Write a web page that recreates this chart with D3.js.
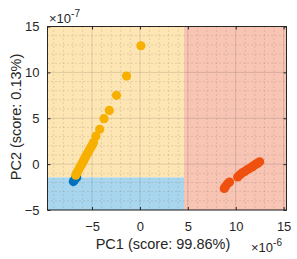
<!DOCTYPE html>
<html><head><meta charset="utf-8">
<script src="https://cdn.jsdelivr.net/npm/d3@7"></script>
<style>body{margin:0;background:#fff}svg{display:block}text{font-family:"Liberation Sans",Arial,sans-serif;fill:#262626}</style>
</head><body><svg id="c" width="297" height="259"></svg>
<script>
const xTicks = [-5, 0, 5, 10, 15];
const yTicks = [-5, 0, 5, 10, 15];
const xLabel = "PC1 (score: 99.86%)";
const yLabel = "PC2 (score: 0.13%)";
const xExp = "-6", yExp = "-7";
// decision regions (in data units, scaled)
const regionBoundaryX = 4.6;
const regionBoundaryY = -1.45;
// class points (x in 1e-6, y in 1e-7)
const blueX = [-6.95, -6.85, -6.75, -6.6];
const blueY = [-1.9, -1.75, -1.6, -1.45];
const redX = [8.8, 8.95, 9.15, 9.35, 10.2, 10.45, 10.7, 10.95, 11.2, 11.45, 11.7, 11.9, 12.1, 12.3, 12.5];
const redY = [-2.65, -2.4, -2.15, -1.95, -1.4, -1.15, -0.95, -0.8, -0.6, -0.45, -0.3, -0.15, 0.0, 0.1, 0.25];
const yelX = [0.1, -1.4, -2.45, -3.2, -3.75, -4.2, -4.6, -4.85, -4.95, -5.05, -5.2, -5.3, -5.4, -5.55, -5.65, -5.75, -5.85, -5.95, -6.05, -6.15, -6.3, -6.4, -6.5, -6.6, -6.7];
const yelY = [12.9, 9.6, 7.5, 5.85, 4.95, 3.8, 3.05, 2.35, 2.15, 1.95, 1.7, 1.5, 1.3, 1.05, 0.85, 0.65, 0.45, 0.25, 0.05, -0.15, -0.4, -0.6, -0.8, -1.0, -1.2];

const svg = d3.select("#c");
const L = 47.5, T = 26.5, R = 286.5, B = 210;
const x = d3.scaleLinear().domain([-9.65, 15.3]).range([L, R]);
const y = d3.scaleLinear().domain([-5, 15]).range([B, T]);
const [x0, x1] = x.domain(), [y0, y1] = y.domain();

// regions
svg.append("rect").attr("x", x(x0)).attr("y", y(y1)).attr("width", x(regionBoundaryX) - x(x0)).attr("height", y(regionBoundaryY) - y(y1)).attr("fill", "#FEE6B4");
svg.append("rect").attr("x", x(x0)).attr("y", y(regionBoundaryY)).attr("width", x(regionBoundaryX) - x(x0)).attr("height", y(y0) - y(regionBoundaryY)).attr("fill", "#A8D6EE");
svg.append("rect").attr("x", x(regionBoundaryX)).attr("y", y(y1)).attr("width", x(x1) - x(regionBoundaryX)).attr("height", y(y0) - y(y1)).attr("fill", "#F8C4B4");

// minor grid
const minorX = d3.range(-9, 16, 1).filter(v => v % 5 !== 0);
const minorY = d3.range(-4, 16, 1).filter(v => v % 5 !== 0);
const g = svg.append("g");
g.selectAll(".mx").data(minorX).join("line").attr("x1", d => x(d)).attr("x2", d => x(d)).attr("y1", T).attr("y2", B)
  .attr("stroke", "#8a7a6a").attr("stroke-opacity", 0.45).attr("stroke-width", 1).attr("stroke-dasharray", "1,3");
g.selectAll(".my").data(minorY).join("line").attr("y1", d => y(d)).attr("y2", d => y(d)).attr("x1", L).attr("x2", R)
  .attr("stroke", "#8a7a6a").attr("stroke-opacity", 0.45).attr("stroke-width", 1).attr("stroke-dasharray", "1,3");
// major grid
g.selectAll(".gx").data(xTicks).join("line").attr("x1", d => x(d)).attr("x2", d => x(d)).attr("y1", T).attr("y2", B)
  .attr("stroke", "#262626").attr("stroke-opacity", 0.15);
g.selectAll(".gy").data(yTicks).join("line").attr("y1", d => y(d)).attr("y2", d => y(d)).attr("x1", L).attr("x2", R)
  .attr("stroke", "#262626").attr("stroke-opacity", 0.15);

// points
const pts = (xs, ys, col) => svg.append("g").selectAll("circle").data(xs.map((v, i) => [v, ys[i]])).join("circle")
  .attr("cx", d => x(d[0])).attr("cy", d => y(d[1])).attr("r", 4.6).attr("fill", col);
pts(blueX, blueY, "#0072BD");
pts(redX, redY, "#F0500F");
pts(yelX, yelY, "#F7B000");

// axes
const ax = svg.append("g").attr("transform", `translate(0,${B})`).call(d3.axisBottom(x).tickValues(xTicks).tickSizeInner(-3).tickSizeOuter(0).tickPadding(12).tickFormat(d3.format("d")));
const axT = svg.append("g").attr("transform", `translate(0,${T})`).call(d3.axisTop(x).tickValues(xTicks).tickSizeInner(-3).tickSizeOuter(0).tickFormat(""));
const ay = svg.append("g").attr("transform", `translate(${L},0)`).call(d3.axisLeft(y).tickValues(yTicks).tickSizeInner(-3).tickSizeOuter(0).tickPadding(8).tickFormat(d3.format("d")));
const ayR = svg.append("g").attr("transform", `translate(${R},0)`).call(d3.axisRight(y).tickValues(yTicks).tickSizeInner(-3).tickSizeOuter(0).tickFormat(""));
[ax, axT, ay, ayR].forEach(a => {
  a.select(".domain").remove();
  a.selectAll(".tick line").attr("stroke", "#262626");
  a.selectAll("text").attr("font-size", 13).attr("fill", "#262626").style("font-family", '"Liberation Sans",Arial,sans-serif');
});
svg.append("rect").attr("x", L).attr("y", T).attr("width", R - L).attr("height", B - T).attr("fill", "none").attr("stroke", "#262626").attr("stroke-width", 1);

// labels
svg.append("text").attr("x", 163).attr("y", 249).attr("text-anchor", "middle").attr("font-size", 14.5).text(xLabel);
svg.append("text").attr("transform", "translate(21,117) rotate(-90)").attr("text-anchor", "middle").attr("font-size", 14.5).text(yLabel);

const ex1 = svg.append("text").attr("x", 49).attr("y", 23).attr("font-size", 13);
ex1.append("tspan").text("×10");
ex1.append("tspan").attr("dy", -6).attr("font-size", 10).text(yExp);
const ex2 = svg.append("text").attr("x", 251).attr("y", 252).attr("font-size", 13);
ex2.append("tspan").text("×10");
ex2.append("tspan").attr("dy", -6).attr("font-size", 10).text(xExp);
</script></body></html>
